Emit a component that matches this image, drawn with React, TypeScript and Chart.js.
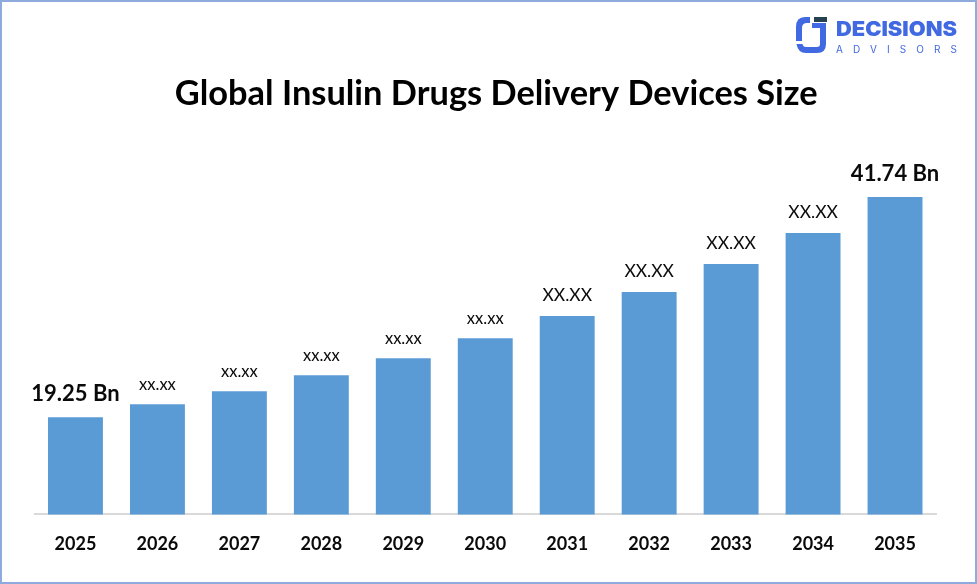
import React, { useEffect, useRef } from "react";
import { Chart, registerables } from "chart.js";

Chart.register(...registerables);

const categories = ["2025","2026","2027","2028","2029","2030","2031","2032","2033","2034","2035"];
const sizeValues = [19.25,20.58,21.91,23.55,25.28,27.33,29.58,32.03,34.89,38.06,41.74];
const barLabels = ["19.25 Bn","xx.xx","xx.xx","xx.xx","xx.xx","xx.xx","XX.XX","XX.XX","XX.XX","XX.XX","41.74 Bn"];
const labelSizes = [22,16.5,16.5,16.5,16.5,16.5,17.5,17.5,17.5,17.5,22];
const labelOffsets = [16,14,14,14,14,14,15.5,15.5,15.5,15.5,16];
const labelWeights = ["bold","normal","normal","normal","normal","normal","normal","normal","normal","normal","bold"];
const titleText = "Global Insulin Drugs Delivery Devices Size";
const FONT = "Lato, Carlito, 'Open Sans', sans-serif";

const barLabelPlugin = {
  id: "barLabels",
  afterLayout(chart: any) {
    chart.titleBlock.left += 22;
  },
  afterDatasetsDraw(chart: any) {
    const { ctx } = chart;
    const meta = chart.getDatasetMeta(0);
    ctx.save();
    ctx.textAlign = "center";
    ctx.textBaseline = "alphabetic";
    ctx.fillStyle = "#0a0a0a";
    meta.data.forEach((bar: any, i: number) => {
      ctx.font = `${labelWeights[i]} ${labelSizes[i]}px ${FONT}`;
      ctx.fillText(barLabels[i], bar.x, bar.y - labelOffsets[i]);
    });
    ctx.restore();
  },
};

export default function App() {
  const ref = useRef<HTMLCanvasElement>(null);
  useEffect(() => {
    const chart = new Chart(ref.current!, {
      type: "bar",
      data: {
        labels: categories,
        datasets: [{ data: sizeValues, backgroundColor: "#5b9bd5", categoryPercentage: 1, barPercentage: 0.67 }],
      },
      options: {
        animation: false,
        responsive: false,
        devicePixelRatio: 1,
        layout: { padding: { left: 34.5, right: 41, top: 10, bottom: 10 } },
        plugins: {
          legend: { display: false },
          tooltip: { enabled: false },
          title: {
            display: true,
            text: titleText,
            color: "#000",
            font: { family: FONT, size: 34.4, weight: "bold" },
            padding: { top: 63.2, bottom: 27.1 },
          },
        },
        scales: {
          x: {
            grid: { display: false, drawTicks: false },
            border: { color: "#d9d9d9", width: 2 },
            ticks: { color: "#0a0a0a", font: { family: FONT, size: 18, weight: "bold" }, padding: 19, maxRotation: 0 },
          },
          y: { display: false, min: 9.33, max: 47.4 },
        },
      },
      plugins: [barLabelPlugin],
    } as any);
    return () => chart.destroy();
  }, []);
  return (
    <div style={{ position: "fixed", left: 0, top: 0, width: 977, height: 584, background: "#fff" }}>
      <canvas ref={ref} width={977} height={584} style={{ display: "block" }} />
      <div style={{ position: "absolute", left: 0, top: 0, width: 977, height: 584, boxSizing: "border-box", border: "2px solid #8faadc", pointerEvents: "none" }} />
      <svg width={977} height={584} style={{ position: "absolute", left: 0, top: 0 }}>
        <path d="M810 17 H805 Q796 17 796 27 V41 H802 V28 Q802 23 807 23 H810 Z" fill="#4169e1" />
        <path d="M812 23 H826 V44 Q826 53 817 53 H806 Q798 53 796.5 44 H802.5 Q803 47 806 47 H817 Q820 47 820 44 V28 H812 Z" fill="#4169e1" />
        <rect x={814} y={17} width={13} height={5} fill="#24424f" />
        <text x={836} y={35.5} fontFamily="Inter, sans-serif" fontWeight={900} fontSize={20} fill="#4169e1" textLength={121} lengthAdjust="spacingAndGlyphs">DECISIONS</text>
        <text x={836} y={52.5} fontFamily="Inter, sans-serif" fontSize={10} fill="#4169e1" textLength={121}>ADVISORS</text>
      </svg>
    </div>
  );
}
